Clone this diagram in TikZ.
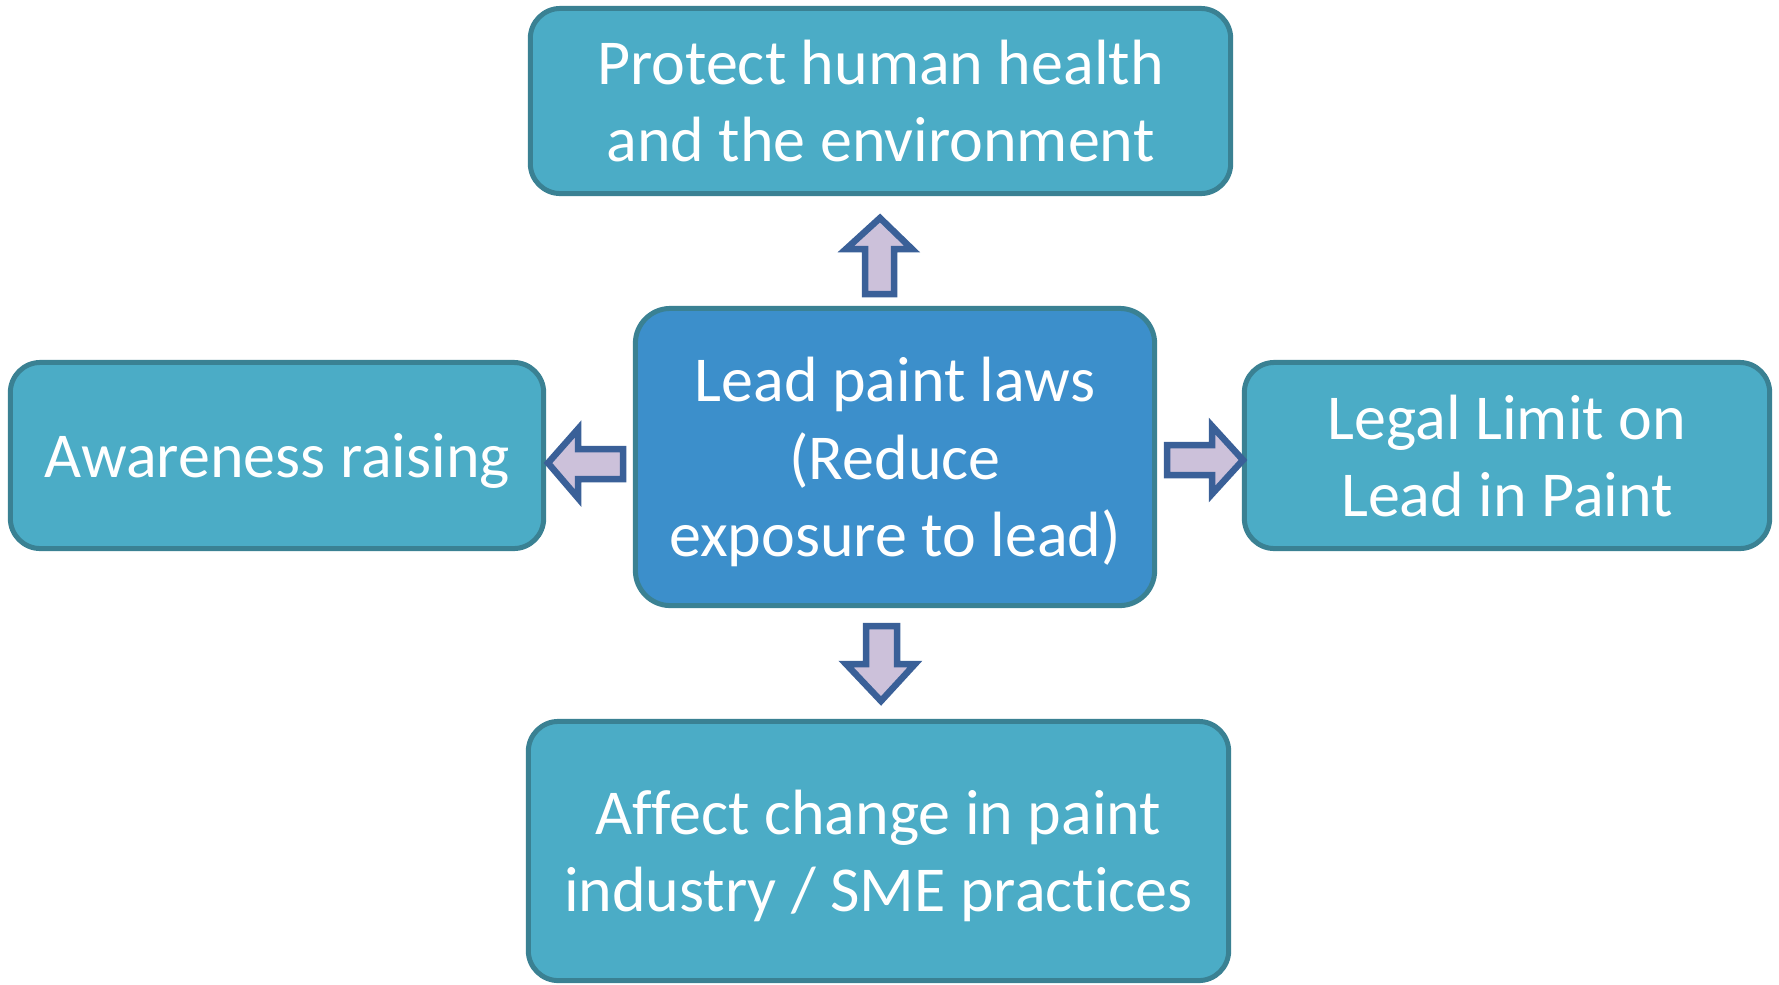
\documentclass[tikz,border=0pt]{standalone}
\usepackage{fontspec}
\setmainfont{Carlito}[Ligatures=NoCommon]
\definecolor{boxfill}{HTML}{4BACC6}
\definecolor{boxedge}{HTML}{3A8193}
\definecolor{mainfill}{HTML}{3C8FCB}
\definecolor{arrowedge}{HTML}{3A6098}
\definecolor{arrowfill}{HTML}{CCC1DA}
\tikzset{
  box/.style={draw=boxedge, fill=boxfill, line width=0.05cm, rounded corners=0.3cm,
    text=white, align=center, inner sep=0pt, text depth=0pt,
    font=\fontsize{18.2pt}{22pt}\selectfont},
  mainbox/.style={box, fill=mainfill, rounded corners=0.35cm},
  blockarrow/.style={draw=arrowedge, fill=arrowfill, line width=0.065cm, line join=miter}
}
\begin{document}
\begin{tikzpicture}[x=0.01cm, y=-0.01cm]
\useasboundingbox (0,0) rectangle (1779,984);
\node[box, minimum width=7.00cm, minimum height=1.85cm] (top) at (880.5,101)
  {Protect human health\\and the environment};
\node[mainbox, minimum width=5.19cm, minimum height=2.97cm] (main) at (895,457)
  {Lead paint laws\\(Reduce\\exposure to lead)};
\node[box, minimum width=5.33cm, minimum height=1.86cm] (left) at (277,455.5)
  {Awareness raising};
\node[box, minimum width=5.25cm, minimum height=1.86cm] (right) at (1507,455.5)
  {Legal Limit on\\Lead in Paint};
\node[box, minimum width=7.00cm, minimum height=2.59cm] (bottom) at (878.5,851)
  {Affect change in paint\\industry / SME practices};
% up arrow
\draw[blockarrow] (880,218) -- (912,249) -- (894,249) -- (894,294) -- (865,294)
  -- (865,249) -- (846,249) -- cycle;
% left arrow
\draw[blockarrow] (548,463) -- (578,429) -- (578,449) -- (623,449) -- (623,479)
  -- (578,479) -- (578,498) -- cycle;
% right arrow
\draw[blockarrow] (1243,460) -- (1212,426) -- (1212,445) -- (1167,445) -- (1167,475)
  -- (1212,475) -- (1212,494) -- cycle;
% down arrow
\draw[blockarrow] (881,701) -- (915,664) -- (897,664) -- (897,626) -- (866,626)
  -- (866,664) -- (846,664) -- cycle;
\end{tikzpicture}
\end{document}
